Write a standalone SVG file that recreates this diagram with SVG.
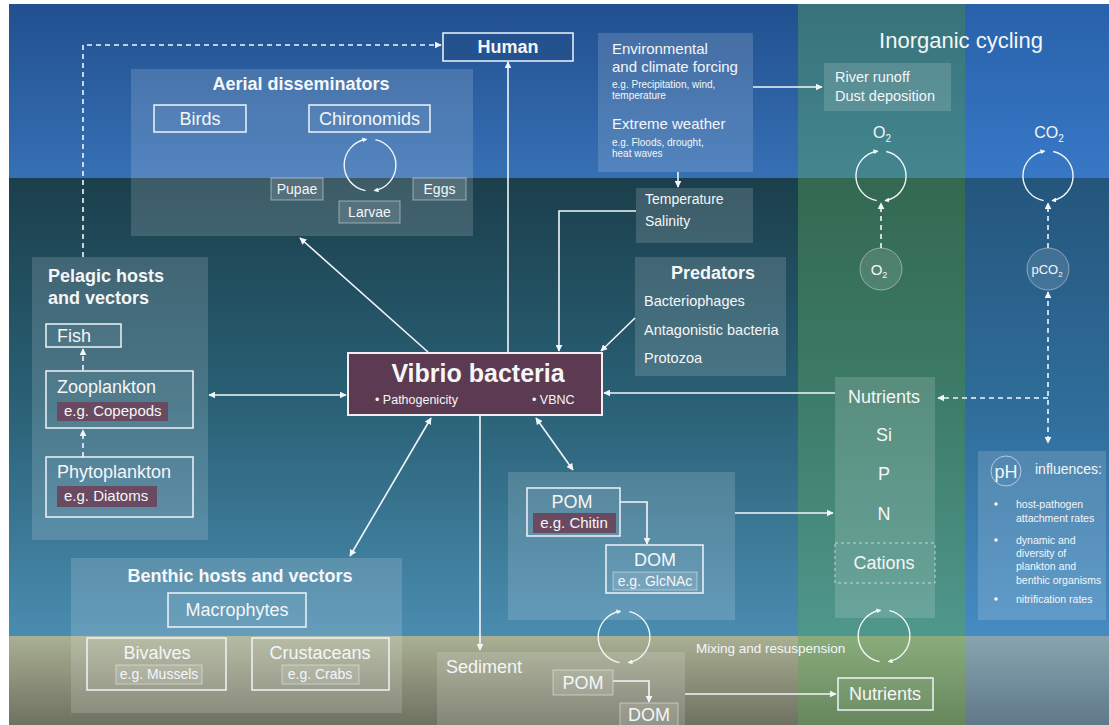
<svg xmlns="http://www.w3.org/2000/svg" width="1109" height="725" viewBox="0 0 1109 725">
<defs>
<linearGradient id="gSky" x1="0" y1="0" x2="0" y2="1"><stop offset="0" stop-color="#21508f"/><stop offset="1" stop-color="#3670b4"/></linearGradient>
<linearGradient id="gWater" x1="0" y1="0" x2="0" y2="1"><stop offset="0" stop-color="#1b3f4c"/><stop offset="0.5" stop-color="#2a6176"/><stop offset="1" stop-color="#4a8cb0"/></linearGradient>
<linearGradient id="gSed" x1="0" y1="0" x2="0" y2="1"><stop offset="0" stop-color="#a9b093"/><stop offset="1" stop-color="#6f7160"/></linearGradient>
<marker id="ah" viewBox="0 0 10 10" refX="9" refY="5" markerWidth="7" markerHeight="7" markerUnits="userSpaceOnUse" orient="auto-start-reverse"><path d="M0,0 L10,5 L0,10 z" fill="#f2f6fa"/></marker>
<marker id="ahs" viewBox="0 0 10 10" refX="8" refY="5" markerWidth="5" markerHeight="5" markerUnits="userSpaceOnUse" orient="auto"><path d="M0,0 L10,5 L0,10 z" fill="#f2f6fa"/></marker>
<style>
text{font-family:"Liberation Sans",Arial,Helvetica,sans-serif;fill:#f4f6f8}
.b{font-weight:bold}
.m{text-anchor:middle}
.panel{fill:#ffffff;fill-opacity:.15}
.box{fill:#ffffff;fill-opacity:.04;stroke:#eef4fa;stroke-width:1.5}
.sbox{fill:#ffffff;fill-opacity:.12;stroke:#ffffff;stroke-opacity:.45;stroke-width:1}
.hl{fill:#6a4a60}
.ln{stroke:#f2f6fa;stroke-width:1.6;fill:none}
.dash{stroke-dasharray:5 4}
.cyc{stroke:#f2f6fa;stroke-width:1.4;fill:none;marker-end:url(#ahs)}
.t18{font-size:18px}
.t15{font-size:15px}
.t14{font-size:14px}
.t10{font-size:10px}
</style>
</defs>

<g id="background">
<rect x="0" y="0" width="1109" height="725" fill="#ffffff"/>
<rect x="9" y="4" width="1100" height="174" fill="url(#gSky)"/>
<rect x="9" y="178" width="1100" height="458" fill="url(#gWater)"/>
<rect x="9" y="636" width="1100" height="89" fill="url(#gSed)"/>
<rect x="798" y="4" width="167" height="721" fill="#5aa858" fill-opacity="0.4"/>
<rect x="965" y="4" width="144" height="721" fill="#3c8cf0" fill-opacity="0.3"/>
</g>

<g id="inorganic-title"><text x="961" y="48" class="m" font-size="22">Inorganic cycling</text></g>

<g id="aerial">
<rect x="131" y="69" width="342" height="167" class="panel"/>
<text x="301" y="90" class="b m t18">Aerial disseminators</text>
<g id="birds"><rect x="154" y="105" width="92" height="27" class="box" fill-opacity="0"/><text x="200" y="125" class="m t18">Birds</text></g>
<g id="chironomids"><rect x="309" y="105" width="121" height="27" class="box" fill-opacity="0"/><text x="369.5" y="125" class="m t18">Chironomids</text></g>
<g id="pupae"><rect x="271" y="178" width="52" height="22" class="sbox"/><text x="297" y="194" class="m t14">Pupae</text></g>
<g id="eggs"><rect x="413" y="178" width="53" height="22" class="sbox"/><text x="439.5" y="194" class="m t14">Eggs</text></g>
<g id="larvae"><rect x="339" y="201" width="61" height="22" class="sbox"/><text x="369.5" y="217" class="m t14">Larvae</text></g>
</g>

<g id="human"><rect x="443" y="33" width="130" height="28" fill="#24528f" stroke="#eef4fa" stroke-width="1.5"/><text x="508" y="53" class="b m t18">Human</text></g>

<g id="environmental">
<rect x="598" y="33" width="155" height="139" class="panel" fill-opacity="0.18"/>
<text x="612" y="54" class="t15">Environmental</text>
<text x="612" y="72" class="t15">and climate forcing</text>
<text x="612" y="88" class="t10">e.g. Precipitation, wind,</text>
<text x="612" y="99" class="t10">temperature</text>
<text x="612" y="129" class="t15">Extreme weather</text>
<text x="612" y="146" class="t10">e.g. Floods, drought,</text>
<text x="612" y="157" class="t10">heat waves</text>
</g>

<g id="river"><rect x="824" y="63" width="127" height="48" class="panel"/><text x="835" y="82" font-size="14.5">River runoff</text><text x="835" y="101" font-size="14.5">Dust deposition</text></g>

<g id="temperature"><rect x="636" y="188" width="117" height="55" class="panel"/><text x="645" y="204" class="t14">Temperature</text><text x="645" y="226" class="t14">Salinity</text></g>

<g id="o2-label"><text x="882" y="138" class="m" font-size="16">O<tspan font-size="10" dy="4">2</tspan></text></g>
<g id="co2-label"><text x="1049" y="138" class="m" font-size="16">CO<tspan font-size="10" dy="4">2</tspan></text></g>
<g id="o2-small"><circle cx="881" cy="269" r="21" fill="#ffffff" fill-opacity="0.12" stroke="#ffffff" stroke-opacity="0.4"/><text x="879" y="275" class="m" font-size="15">O<tspan font-size="9" dy="3">2</tspan></text></g>
<g id="pco2"><circle cx="1048" cy="269" r="21" fill="#ffffff" fill-opacity="0.12" stroke="#ffffff" stroke-opacity="0.4"/><text x="1047" y="274" class="m" font-size="13">pCO<tspan font-size="8" dy="3">2</tspan></text></g>

<g id="predators">
<rect x="635" y="257" width="151" height="119" class="panel"/>
<text x="713" y="279" class="b m t18">Predators</text>
<text x="644" y="306" font-size="14.5">Bacteriophages</text>
<text x="644" y="335" font-size="14.5">Antagonistic bacteria</text>
<text x="644" y="363" font-size="14.5">Protozoa</text>
</g>

<g id="pelagic">
<rect x="32" y="257" width="176" height="283" class="panel"/>
<text x="48" y="282" class="b t18">Pelagic hosts</text>
<text x="48" y="304" class="b t18">and vectors</text>
<g id="fish"><rect x="46" y="324" width="75" height="23" class="box"/><text x="57" y="342" class="t18">Fish</text></g>
<g id="zooplankton"><rect x="46" y="371" width="147" height="57" class="box"/><text x="57" y="393" class="t18">Zooplankton</text><rect x="57" y="402" width="111" height="19" class="hl"/><text x="64" y="416" class="t15">e.g. Copepods</text></g>
<g id="phytoplankton"><rect x="46" y="457" width="147" height="60" class="box"/><text x="57" y="478" class="t18">Phytoplankton</text><rect x="57" y="486" width="100" height="21" class="hl"/><text x="64" y="501" class="t15">e.g. Diatoms</text></g>
</g>

<g id="vibrio">
<rect x="348" y="353" width="254" height="62" fill="#5c3b52" stroke="#f2eef2" stroke-width="2"/>
<text x="478" y="382" class="b m" font-size="25">Vibrio bacteria</text>
<text x="375" y="404" font-size="12.5">• Pathogenicity</text>
<text x="532" y="404" font-size="12.5">• VBNC</text>
</g>

<g id="nutrients-column">
<rect x="835" y="377" width="100" height="241" class="panel" fill-opacity="0.12"/>
<text x="884" y="403" class="m t18">Nutrients</text>
<text x="884" y="441" class="m t18">Si</text>
<text x="884" y="480" class="m t18">P</text>
<text x="884" y="520" class="m t18">N</text>
<rect x="835" y="543" width="100" height="40" fill="none" stroke="#ffffff" stroke-opacity="0.6" stroke-dasharray="3 3"/>
<text x="884" y="569" class="m t18">Cations</text>
</g>

<g id="ph">
<rect x="978" y="451" width="128" height="169" class="panel"/>
<circle cx="1006" cy="471" r="15" fill="none" stroke="#ffffff" stroke-opacity="0.55"/>
<text x="1006" y="478" class="m t18">pH</text>
<text x="1035" y="474" class="t14">influences:</text>
<circle cx="996" cy="504" r="1.8" fill="#f4f6f8"/>
<text x="1016" y="508" font-size="10.5">host-pathogen</text>
<text x="1016" y="522" font-size="10.5">attachment rates</text>
<circle cx="996" cy="540" r="1.8" fill="#f4f6f8"/>
<text x="1016" y="544" font-size="10.5">dynamic and</text>
<text x="1016" y="557" font-size="10.5">diversity of</text>
<text x="1016" y="570" font-size="10.5">plankton and</text>
<text x="1016" y="584" font-size="10.5">benthic organisms</text>
<circle cx="996" cy="599" r="1.8" fill="#f4f6f8"/>
<text x="1016" y="603" font-size="10.5">nitrification rates</text>
</g>

<g id="organic-matter">
<rect x="508" y="472" width="227" height="148" class="panel"/>
<g id="pom"><rect x="527" y="488" width="93" height="48" class="box"/><text x="572" y="508" class="m t18">POM</text><rect x="533" y="513" width="83" height="20" class="hl"/><text x="574" y="528" class="m t15">e.g. Chitin</text></g>
<g id="dom"><rect x="606" y="545" width="97" height="48" class="box"/><text x="655" y="566" class="m t18">DOM</text><rect x="613" y="572" width="84" height="18" class="sbox"/><text x="655" y="586" class="m t14">e.g. GlcNAc</text></g>
</g>

<g id="benthic">
<rect x="71" y="558" width="331" height="155" class="panel"/>
<text x="240" y="582" class="b m t18">Benthic hosts and vectors</text>
<g id="macrophytes"><rect x="168" y="593" width="138" height="34" class="box"/><text x="237" y="616" class="m t18">Macrophytes</text></g>
<g id="bivalves"><rect x="87" y="638" width="139" height="52" class="box"/><text x="157" y="659" class="m t18">Bivalves</text><rect x="116" y="665" width="86" height="19" class="sbox"/><text x="159" y="679" class="m t14">e.g. Mussels</text></g>
<g id="crustaceans"><rect x="252" y="638" width="137" height="52" class="box"/><text x="320" y="659" class="m t18">Crustaceans</text><rect x="282" y="665" width="77" height="19" class="sbox"/><text x="320" y="679" class="m t14">e.g. Crabs</text></g>
</g>

<g id="sediment">
<rect x="437" y="652" width="248" height="73" class="panel" fill-opacity="0.12"/>
<text x="446" y="673" class="t18">Sediment</text>
<g id="sed-pom"><rect x="553" y="670" width="60" height="25" class="sbox" fill-opacity="0.05"/><text x="583" y="689" class="m t18">POM</text></g>
<g id="sed-dom"><rect x="620" y="703" width="58" height="25" class="sbox" fill-opacity="0.05"/><text x="649" y="721" class="m t18">DOM</text></g>
</g>

<g id="mixing-label"><text x="696" y="653" font-size="13.5">Mixing and resuspension</text></g>

<g id="sed-nutrients"><rect x="838" y="678" width="95" height="32" class="box"/><text x="885" y="700" class="m t18">Nutrients</text></g>

<g id="connectors">
<path class="ln dash" d="M83,257 V45 H441" marker-end="url(#ah)"/>
<path class="ln" d="M508,353 V62" marker-end="url(#ah)"/>
<path class="ln" d="M428,352 L300,238" marker-end="url(#ah)"/>
<path class="ln" d="M753,87 H822" marker-end="url(#ah)"/>
<path class="ln" d="M678,172 V187" marker-end="url(#ah)"/>
<path class="ln" d="M636,211 H559 V351" marker-end="url(#ah)"/>
<path class="ln" d="M635,318 L601,351" marker-end="url(#ah)"/>
<path class="ln" d="M835,393 H604" marker-end="url(#ah)"/>
<path class="ln" d="M209,395 H346" marker-start="url(#ah)" marker-end="url(#ah)"/>
<path class="ln" d="M431,418 L350,556" marker-start="url(#ah)" marker-end="url(#ah)"/>
<path class="ln" d="M480,416 V650" marker-end="url(#ah)"/>
<path class="ln" d="M536,418 L573,470" marker-start="url(#ah)" marker-end="url(#ah)"/>
<path class="ln" d="M620,502 H647 V544" marker-end="url(#ah)"/>
<path class="ln" d="M735,513 H833" marker-end="url(#ah)"/>
<path class="ln dash" d="M881,248 V203" marker-end="url(#ah)"/>
<path class="ln dash" d="M1048,248 V203" marker-end="url(#ah)"/>
<path class="ln dash" d="M1048,292 V443" marker-start="url(#ah)" marker-end="url(#ah)"/>
<path class="ln dash" d="M1048,398 H938" marker-end="url(#ah)"/>
<path class="ln dash" d="M83,370 V349" marker-end="url(#ah)"/>
<path class="ln dash" d="M83,457 V430" marker-end="url(#ah)"/>
<path class="ln" d="M613,681 H649 V702" marker-end="url(#ah)"/>
<path class="ln" d="M685,694 H836" marker-end="url(#ah)"/>
<g id="cycles">
<path class="cyc" d="M365.5,190.6 A26,26 0 0 1 366.4,139.3"/>
<path class="cyc" d="M375.4,139.6 A26,26 0 0 1 374.5,190.6"/>
<path class="cyc" d="M876.7,200.6 A25,25 0 0 1 877.5,151.2"/>
<path class="cyc" d="M886.2,151.5 A25,25 0 0 1 885.3,200.6"/>
<path class="cyc" d="M1043.7,200.6 A25,25 0 0 1 1044.5,151.2"/>
<path class="cyc" d="M1053.2,151.5 A25,25 0 0 1 1052.3,200.6"/>
<path class="cyc" d="M619.5,662.6 A26,26 0 0 1 620.4,611.3"/>
<path class="cyc" d="M629.4,611.6 A26,26 0 0 1 628.5,662.6"/>
<path class="cyc" d="M879.5,661.6 A26,26 0 0 1 880.4,610.3"/>
<path class="cyc" d="M889.4,610.6 A26,26 0 0 1 888.5,661.6"/>
</g>
</g>
</svg>
